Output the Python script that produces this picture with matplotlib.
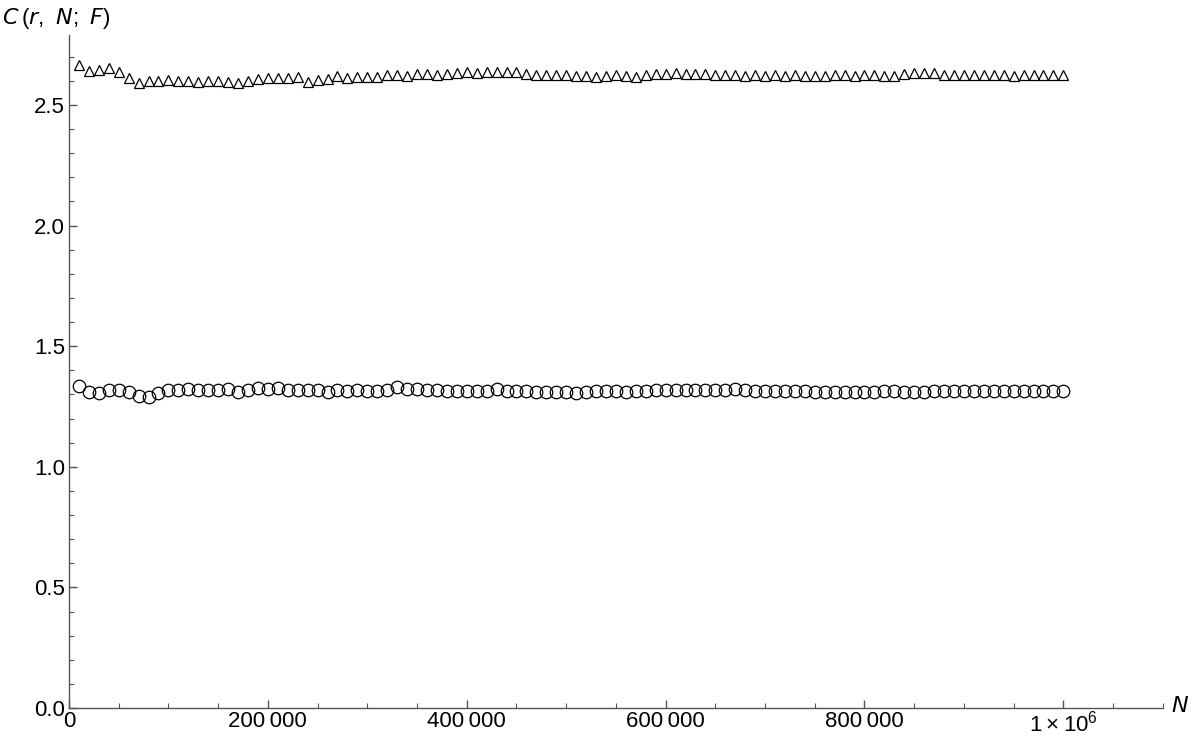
import numpy as np
import matplotlib.pyplot as plt
from matplotlib.ticker import MultipleLocator, FuncFormatter

plt.rcParams['font.family'] = ['Liberation Sans', 'DejaVu Sans']
plt.rcParams['mathtext.fontset'] = 'custom'
plt.rcParams['mathtext.rm'] = 'Liberation Sans'

# N = 10000, 20000, ..., 1000000
n_values = np.arange(1, 101) * 10000

triangles = [2.665, 2.640, 2.644, 2.652, 2.637, 2.612, 2.592, 2.598, 2.598, 2.604,
             2.601, 2.601, 2.597, 2.600, 2.600, 2.597, 2.592, 2.601, 2.606, 2.610,
             2.610, 2.610, 2.617, 2.596, 2.602, 2.606, 2.620, 2.612, 2.615, 2.617,
             2.617, 2.623, 2.623, 2.620, 2.627, 2.627, 2.625, 2.630, 2.633, 2.637,
             2.633, 2.636, 2.636, 2.637, 2.636, 2.630, 2.625, 2.623, 2.625, 2.625,
             2.622, 2.622, 2.618, 2.622, 2.623, 2.622, 2.618, 2.625, 2.627, 2.630,
             2.632, 2.630, 2.627, 2.627, 2.625, 2.625, 2.625, 2.622, 2.625, 2.622,
             2.623, 2.622, 2.625, 2.622, 2.622, 2.622, 2.625, 2.625, 2.620, 2.623,
             2.623, 2.620, 2.620, 2.627, 2.632, 2.632, 2.632, 2.625, 2.625, 2.625,
             2.625, 2.625, 2.625, 2.625, 2.622, 2.624, 2.624, 2.625, 2.624, 2.623]

circles = [1.333, 1.312, 1.306, 1.317, 1.317, 1.312, 1.295, 1.289, 1.306, 1.320,
           1.320, 1.322, 1.320, 1.320, 1.320, 1.322, 1.312, 1.317, 1.325, 1.322,
           1.325, 1.317, 1.320, 1.318, 1.317, 1.312, 1.317, 1.315, 1.317, 1.315,
           1.315, 1.317, 1.330, 1.322, 1.322, 1.320, 1.317, 1.315, 1.315, 1.315,
           1.315, 1.315, 1.322, 1.315, 1.315, 1.315, 1.312, 1.312, 1.310, 1.312,
           1.306, 1.312, 1.315, 1.315, 1.315, 1.312, 1.315, 1.315, 1.317, 1.317,
           1.317, 1.317, 1.317, 1.317, 1.317, 1.320, 1.322, 1.317, 1.315, 1.315,
           1.315, 1.315, 1.315, 1.315, 1.312, 1.312, 1.312, 1.310, 1.312, 1.312,
           1.312, 1.315, 1.315, 1.312, 1.312, 1.312, 1.315, 1.315, 1.315, 1.315,
           1.315, 1.315, 1.315, 1.313, 1.313, 1.313, 1.313, 1.313, 1.313, 1.313]

fig = plt.figure(figsize=(12, 7.42), dpi=100)
ax = fig.add_axes([0.0575, 0.0458, 0.9115, 0.907])

ax.plot(n_values, triangles, linestyle='none', marker='^', markersize=7,
        markerfacecolor='none', markeredgecolor='black', markeredgewidth=0.9)
ax.plot(n_values, circles, linestyle='none', marker='o', markersize=9,
        markerfacecolor='none', markeredgecolor='black', markeredgewidth=0.9)

ax.set_xlim(0, 1.1e6)
ax.set_ylim(0, 2.79)

for side in ['top', 'right']:
    ax.spines[side].set_visible(False)
for side in ['left', 'bottom']:
    ax.spines[side].set_color('#555555')
    ax.spines[side].set_linewidth(1.0)


def xfmt(v, pos):
    if v == 0:
        return '0'
    if v == 1e6:
        return r'$\mathregular{1\times10^{6}}$'
    s = f'{int(v):d}'
    return s[:-3] + '\u2009' + s[-3:]


ax.xaxis.set_major_locator(MultipleLocator(200000))
ax.xaxis.set_minor_locator(MultipleLocator(50000))
ax.xaxis.set_major_formatter(FuncFormatter(xfmt))
ax.yaxis.set_major_locator(MultipleLocator(0.5))
ax.yaxis.set_minor_locator(MultipleLocator(0.1))
ax.yaxis.set_major_formatter(FuncFormatter(lambda v, p: f'{v:.1f}'))

ax.tick_params(which='both', direction='in', color='#555555', labelsize=16,
               labelcolor='black')
ax.tick_params(which='major', length=6, width=1.0)
ax.tick_params(which='minor', length=3.5, width=0.8)
ax.tick_params(axis='x', pad=2)
ax.tick_params(axis='y', pad=3)

fig.text(0.002, 0.975, r'$\mathit{C}\,(\mathit{r},\ \mathit{N};\ \mathit{F})$',
         fontsize=16, ha='left', va='center')
fig.text(0.976, 0.048, r'$\mathit{N}$', fontsize=16, ha='left', va='center')

fig.savefig('out.png', dpi=100)
